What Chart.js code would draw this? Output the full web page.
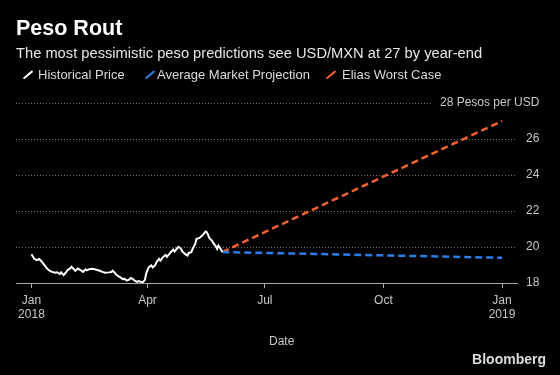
<!DOCTYPE html>
<html>
<head>
<meta charset="utf-8">
<script src="https://cdn.jsdelivr.net/npm/chart.js@4.4.1/dist/chart.umd.min.js"></script>
<style>
  html, body { margin: 0; padding: 0; background: #000; }
  #wrap { position: relative; width: 560px; height: 375px; overflow: hidden; font-family: "Liberation Sans", Arial, sans-serif; }
  #wrap canvas { position: absolute; left: 0; top: 0; }
  .txt { position: absolute; white-space: nowrap; }
  #title { left: 16px; top: 18px; font-size: 21.5px; line-height: 21px; font-weight: bold; color: #fff; }
  #subtitle { left: 16px; top: 46px; font-size: 14.7px; line-height: 15px; color: #e6e6e6; }
  .leg { top: 68px; font-size: 13px; line-height: 13px; color: #dadada; }
  .icon { position: absolute; top: 69px; width: 2.4px; height: 12px; border-radius: 1px; transform: rotate(50deg); }
  #xtitle { left: 269px; top: 335px; font-size: 12px; line-height: 12px; color: #c8c8c8; }
  #source { right: 14px; top: 352px; font-size: 14px; line-height: 14px; font-weight: bold; color: #dcdcdc; }
</style>
</head>
<body>
<div id="wrap">
  <canvas id="pesoChart" width="560" height="375"></canvas>
  <div class="txt" id="title">Peso Rout</div>
  <div class="txt" id="subtitle">The most pessimistic peso predictions see USD/MXN at 27 by year-end</div>
  <span class="icon" style="left:27px; background:#ffffff"></span>
  <div class="txt leg" style="left:38px">Historical Price</div>
  <span class="icon" style="left:149px; background:#2b7de9"></span>
  <div class="txt leg" style="left:157px">Average Market Projection</div>
  <span class="icon" style="left:330px; background:#f26230"></span>
  <div class="txt leg" style="left:342px">Elias Worst Case</div>
  <div class="txt" id="xtitle">Date</div>
  <div class="txt" id="source">Bloomberg</div>
</div>
<script>
  // days since Jan 1 2018
  const histDays = [0, 2, 4, 6, 8, 10, 12, 14, 16, 18, 20, 22, 23, 25, 27, 28, 30, 31, 33, 34,
    36, 38, 40, 42, 43, 45, 47, 49, 51, 53, 55, 57, 60, 62, 63, 65, 66, 68, 69, 71,
    72, 74, 76, 77, 79, 80, 82, 83, 85, 86, 88, 89, 91, 93, 94, 96, 97, 99, 100, 102,
    104, 105, 107, 108, 110, 111, 113, 114, 116, 117, 119, 121, 122, 124, 125, 127, 128, 130, 131, 133,
    135, 136, 137, 138, 140, 141, 143, 144, 145, 147, 148];
  const histPrice = [19.60, 19.36, 19.27, 19.33, 19.18, 18.99, 18.81, 18.68, 18.62, 18.57, 18.59, 18.50, 18.59, 18.44, 18.62, 18.72, 18.81, 18.90, 18.76, 18.68,
    18.81, 18.72, 18.62, 18.76, 18.70, 18.77, 18.79, 18.76, 18.72, 18.68, 18.62, 18.57, 18.59, 18.61, 18.68, 18.54, 18.44, 18.35, 18.31, 18.20,
    18.24, 18.13, 18.20, 18.28, 18.20, 18.13, 18.06, 18.11, 18.06, 18.02, 18.17, 18.54, 18.88, 18.98, 18.86, 18.99, 19.16, 19.34, 19.25, 19.44,
    19.56, 19.45, 19.62, 19.71, 19.86, 19.75, 19.93, 20.01, 19.90, 19.75, 19.62, 19.53, 19.67, 19.71, 19.90, 20.17, 20.45, 20.49, 20.54, 20.67,
    20.86, 20.82, 20.67, 20.49, 20.36, 20.23, 20.04, 19.90, 20.08, 19.86, 19.72];

  const projDays = [148, 365];
  const avgProjection = [19.72, 19.40];
  const worstCase = [19.72, 27.0];

  const xTickDays = [0, 90, 181, 273, 365];
  const xTickLabels = [['Jan', '2018'], 'Apr', 'Jul', 'Oct', ['Jan', '2019']];
  const yTickValues = [18, 20, 22, 24, 26, 28];
  const yUnit = 'Pesos per USD';

  const BLUE = '#2b7de9';
  const ORANGE = '#f26230';
  const FONT = '"Liberation Sans", Arial, sans-serif';
  const TOP_TICK = yTickValues[yTickValues.length - 1];

  Chart.defaults.font.family = FONT;

  function points(xs, ys) {
    return xs.map((x, i) => ({ x: x, y: ys[i] }));
  }

  // top tick gets the unit: "28 Pesos per USD", right aligned with the other labels
  const unitLabel = {
    id: 'unitLabel',
    afterDraw(chart) {
      const yScale = chart.scales.y;
      const ctx = chart.ctx;
      const py = yScale.getPixelForValue(TOP_TICK);
      const text = TOP_TICK + ' ' + yUnit;
      ctx.save();
      ctx.font = '12px ' + FONT;
      const right = yScale.left + yScale.options.ticks.padding + ctx.measureText(String(TOP_TICK)).width;
      const w = ctx.measureText(text).width;
      const cut = right - w - 7;
      ctx.fillStyle = '#000';
      ctx.fillRect(cut, py - 3, chart.chartArea.right - cut + 1, 6);
      ctx.fillStyle = '#c8c8c8';
      ctx.textAlign = 'right';
      ctx.textBaseline = 'middle';
      ctx.fillText(text, right, py);
      ctx.restore();
    }
  };

  const ctx = document.getElementById('pesoChart').getContext('2d');
  new Chart(ctx, {
    type: 'line',
    data: {
      datasets: [{
        label: 'Historical Price',
        data: points(histDays, histPrice),
        borderColor: '#ffffff',
        borderWidth: 2,
        pointRadius: 0,
        tension: 0
      }, {
        label: 'Average Market Projection',
        data: points(projDays, avgProjection),
        borderColor: BLUE,
        borderWidth: 2.5,
        borderDash: [7, 4],
        pointRadius: 0
      }, {
        label: 'Elias Worst Case',
        data: points(projDays, worstCase),
        borderColor: ORANGE,
        borderWidth: 2.5,
        borderDash: [7, 4],
        pointRadius: 0
      }]
    },
    options: {
      responsive: false,
      animation: false,
      layout: { padding: { left: 16, right: 0, top: 103, bottom: 52 } },
      plugins: {
        legend: { display: false },
        tooltip: { enabled: false }
      },
      scales: {
        x: {
          type: 'linear',
          min: -12,
          max: 376.6,
          afterBuildTicks: s => { s.ticks = xTickDays.map(v => ({ value: v })); },
          afterFit: s => { s.height = 40; s.paddingLeft = 0; s.paddingRight = 0; },
          ticks: {
            autoSkip: false,
            maxRotation: 0,
            padding: 5,
            color: '#c8c8c8',
            font: { size: 12 },
            callback: v => xTickLabels[xTickDays.indexOf(v)]
          },
          grid: { drawOnChartArea: false, drawTicks: true, tickLength: 5, color: '#aaaaaa' },
          border: { display: true, color: '#aaaaaa', width: 1 }
        },
        y: {
          position: 'right',
          min: 18,
          max: 28,
          afterBuildTicks: s => { s.ticks = yTickValues.map(v => ({ value: v })); },
          afterFit: s => { s.width = 43; s.paddingTop = 0; s.paddingBottom = 0; },
          ticks: {
            padding: 9,
            crossAlign: 'near',
            color: '#c8c8c8',
            font: { size: 12 },
            callback: v => (v === TOP_TICK ? '' : v)
          },
          grid: {
            drawTicks: false,
            color: c => (c.tick && c.tick.value === 18) ? 'rgba(0,0,0,0)' : '#707070',
            lineWidth: 1
          },
          border: { display: false, dash: [1, 2] }
        }
      }
    },
    plugins: [unitLabel]
  });
</script>
</body>
</html>
